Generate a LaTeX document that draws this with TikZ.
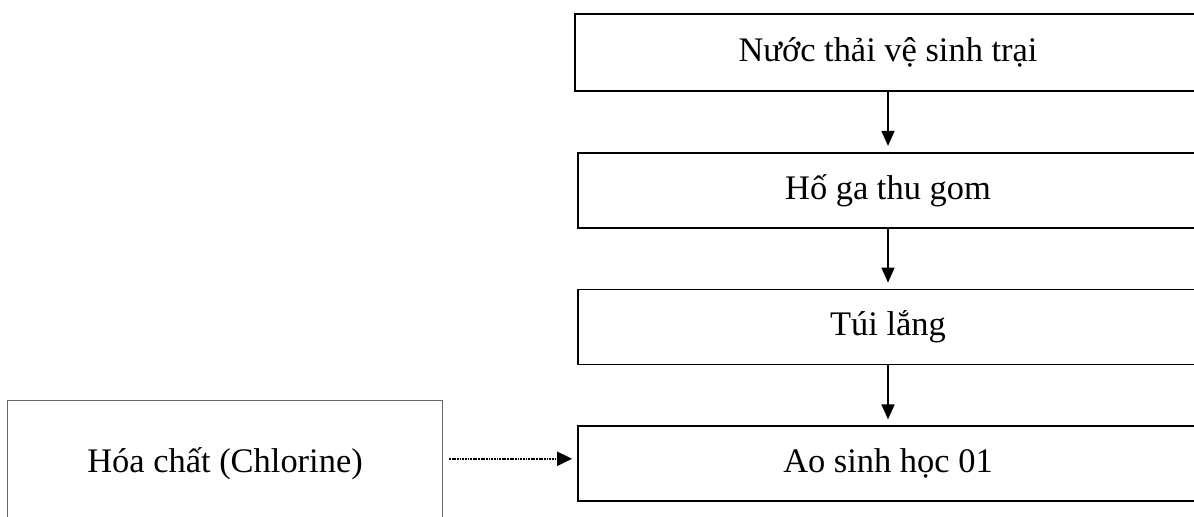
\documentclass[tikz,border=0pt]{standalone}
\usepackage{fontspec}
\setmainfont{Liberation Serif}
\usetikzlibrary{arrows.meta,positioning}

\begin{document}
\begin{tikzpicture}[
    node distance=1.2cm,
    every node/.style={font=\fontsize{19.6}{23}\selectfont},
    box/.style={draw, line width=1pt, minimum width=12.4cm, minimum height=1.5cm, inner sep=0pt},
    src/.style={draw=black!60, line width=0.7pt, minimum width=8.7cm, minimum height=2.52cm, inner sep=0pt},
    flow/.style={-{Triangle[length=0.3cm,width=0.26cm]}, line width=0.8pt, shorten >=0.12cm},
    feed/.style={-{Triangle[length=0.3cm,width=0.28cm]}, line width=1.1pt, dash pattern=on 1pt off 0.5pt,
      shorten <=0.12cm, shorten >=0.1cm},
  ]
  \useasboundingbox (0,0) rectangle (23.88,10.32);

  \node[box, minimum width=12.52cm, minimum height=1.54cm] (nt) at (17.76,9.27) {Nước thải vệ sinh trại};
  \node[box, below=of nt] (hg) {Hố ga thu gom};
  \node[box, below=of hg] (tl) {Túi lắng};
  \node[box, below=of tl] (pond) {Ao sinh học 01};
  \draw[flow] (nt) edge (hg) (hg) edge (tl) (tl) edge (pond);

  % chlorine dosing into the pond
  \node[src, left=2.68cm of pond] (chem) {Hóa chất (Chlorine)};
  \draw[feed] ([yshift=0.1cm]chem.east) -- ([yshift=0.1cm]pond.west);

\end{tikzpicture}
\end{document}
